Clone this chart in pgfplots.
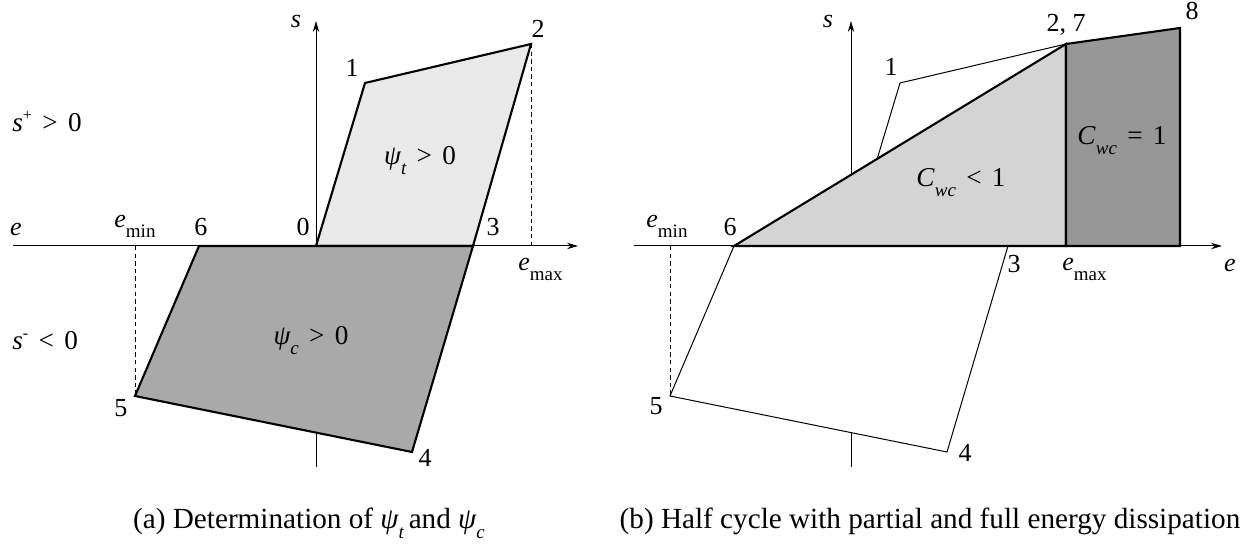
\documentclass[border=0pt]{standalone}
\usepackage{fontspec}
\setmainfont{Liberation Serif}
\usepackage{pgfplots}
\pgfplotsset{compat=1.18}
\usetikzlibrary{arrows.meta}

% lowered subscript and raised superscript in the text font
\newcommand{\sub}[1]{\raisebox{-4.8pt}{\fontsize{9.5}{10}\selectfont #1}}
\newcommand{\sps}[1]{\raisebox{5.5pt}{\fontsize{8}{9}\selectfont #1}}
% relation sign with wide spaces
\newcommand{\rel}[1]{\hspace{0.38em}#1\hspace{0.38em}}

\definecolor{tfill}{HTML}{E9E9E9}
\definecolor{cfill}{HTML}{A9A9AA}
\definecolor{pfill}{HTML}{D4D4D4}
\definecolor{ffill}{HTML}{979797}

\tikzset{
  lbl/.style={anchor=base, inner sep=0pt, font=\fontsize{13}{15}\selectfont},
  rlbl/.style={anchor=base, inner sep=0pt, font=\fontsize{13.6}{16}\selectfont},
  captxt/.style={anchor=base, inner sep=0pt, font=\fontsize{14.6}{17}\selectfont},
  axl/.style={line width=0.5pt, -{Stealth[length=5.5pt,width=3.2pt]}},
  thk/.style={line width=1.05pt, line join=miter},
  thn/.style={line width=0.5pt, line join=miter},
  dsh/.style={line width=0.45pt, dash pattern=on 2.2pt off 1.6pt},
}
\pgfplotsset{
  cycax/.style={hide axis, x=5pt, y=5pt, clip=false, anchor=origin,
    ymin=-23, ymax=23},
}

\begin{document}
\begin{tikzpicture}
% ---------------- (a) determination of psi_t and psi_c ----------------
\begin{axis}[cycax, at={(0pt,0pt)}, xmin=-31, xmax=27]
  % limits of the cycle
  \addplot[dsh] coordinates {(-18.1,0) (-18.1,-15.0)};
  \addplot[dsh] coordinates {(21.5,20.2) (21.5,0)};
  % axes
  \addplot[axl] coordinates {(-30.3,0) (26.2,0)};
  \addplot[axl] coordinates {(0,-22.1) (0,22.5)};
  % tension branch 0-1-2-3
  \addplot[thk, fill=tfill] coordinates
    {(0,0) (4.9,16.3) (21.5,20.2) (15.7,0)} --cycle;
  % compression branch 6-3-4-5
  \addplot[thk, fill=cfill] coordinates
    {(-11.7,0) (15.7,0) (9.6,-20.6) (-18.1,-15.0)} --cycle;

  \node[lbl] at (axis cs:-2.0,21.8) {\textit{s}};
  \node[lbl] at (axis cs:-30.0,1.0) {\textit{e}};
  \node[lbl, anchor=base west] at (axis cs:-20.2,1.8) {\textit{e}\sub{min}};
  \node[lbl, anchor=base west] at (axis cs:20.2,-2.5) {\textit{e}\sub{max}};
  \node[lbl] at (axis cs:-11.5,1.0) {6};
  \node[lbl] at (axis cs:-1.3,1.0) {0};
  \node[lbl] at (axis cs:17.7,1.0) {3};
  \node[lbl] at (axis cs:3.6,16.9) {1};
  \node[lbl] at (axis cs:22.2,20.8) {2};
  \node[lbl] at (axis cs:10.9,-22.1) {4};
  \node[lbl] at (axis cs:-19.5,-17.1) {5};
  \node[rlbl, anchor=base west] at (axis cs:-30.4,11.4) {\textit{s}\sps{+}\rel{>}0};
  \node[rlbl, anchor=base west] at (axis cs:-30.4,-10.4) {\textit{s}\sps{-}\rel{<}0};
  \node[rlbl] at (axis cs:10.4,8.1) {{\itshape ψ}\sub{\itshape t}\rel{>}0};
  \node[rlbl] at (axis cs:-0.5,-9.9) {{\itshape ψ}\sub{\itshape c}\rel{>}0};
  \node[captxt] at (axis cs:-0.7,-28.3)
    {(a) Determination of {\itshape ψ}\sub{\itshape t}\,and {\itshape ψ}\sub{\itshape c}};
\end{axis}

% ---------------- (b) half cycle with energy dissipation ----------------
\begin{axis}[cycax, at={(267.5pt,0pt)}, xmin=-22, xmax=38]
  \addplot[dsh] coordinates {(-18.1,0) (-18.1,-15.0)};
  % axes
  \addplot[axl] coordinates {(-21.7,0) (37.1,0)};
  \addplot[axl] coordinates {(0,-22.1) (0,22.5)};
  % loading path 0-1-2
  \addplot[thn] coordinates {(0,0) (4.9,16.3) (21.5,20.2)};
  % compression half cycle 6-5-4-3
  \addplot[thn, fill=white] coordinates
    {(-11.7,0) (-18.1,-15.0) (9.6,-20.6) (15.7,0)} --cycle;
  % partial dissipation 6-7
  \addplot[thk, fill=pfill] coordinates
    {(-11.7,0) (21.5,20.2) (21.5,0)} --cycle;
  % full dissipation 7-8
  \addplot[thk, fill=ffill] coordinates
    {(21.5,0) (21.5,20.2) (32.9,21.8) (32.9,0)} --cycle;

  \node[lbl] at (axis cs:-2.3,21.8) {\textit{s}};
  \node[lbl] at (axis cs:37.9,-2.6) {\textit{e}};
  \node[lbl, anchor=base west] at (axis cs:-20.5,1.8) {\textit{e}\sub{min}};
  \node[lbl, anchor=base west] at (axis cs:21.1,-2.5) {\textit{e}\sub{max}};
  \node[lbl] at (axis cs:-12.1,1.0) {6};
  \node[lbl] at (axis cs:16.3,-2.7) {3};
  \node[lbl] at (axis cs:4.0,17.0) {1};
  \node[lbl] at (axis cs:21.5,21.4) {2, 7};
  \node[lbl] at (axis cs:34.1,22.6) {8};
  \node[lbl] at (axis cs:11.4,-21.6) {4};
  \node[lbl] at (axis cs:-19.5,-16.9) {5};
  \node[rlbl] at (axis cs:11.0,5.9) {\textit{C}\sub{\itshape wc}\rel{<}1};
  \node[rlbl] at (axis cs:27.1,10.1) {\textit{C}\sub{\itshape wc}\rel{=}1};
  \node[captxt] at (axis cs:7.9,-28.3)
    {(b) Half cycle with partial and full energy dissipation};
\end{axis}

\pgfresetboundingbox
\path[use as bounding box] (-158pt,-152pt) rectangle (465.5pt,123pt);
\end{tikzpicture}
\end{document}
